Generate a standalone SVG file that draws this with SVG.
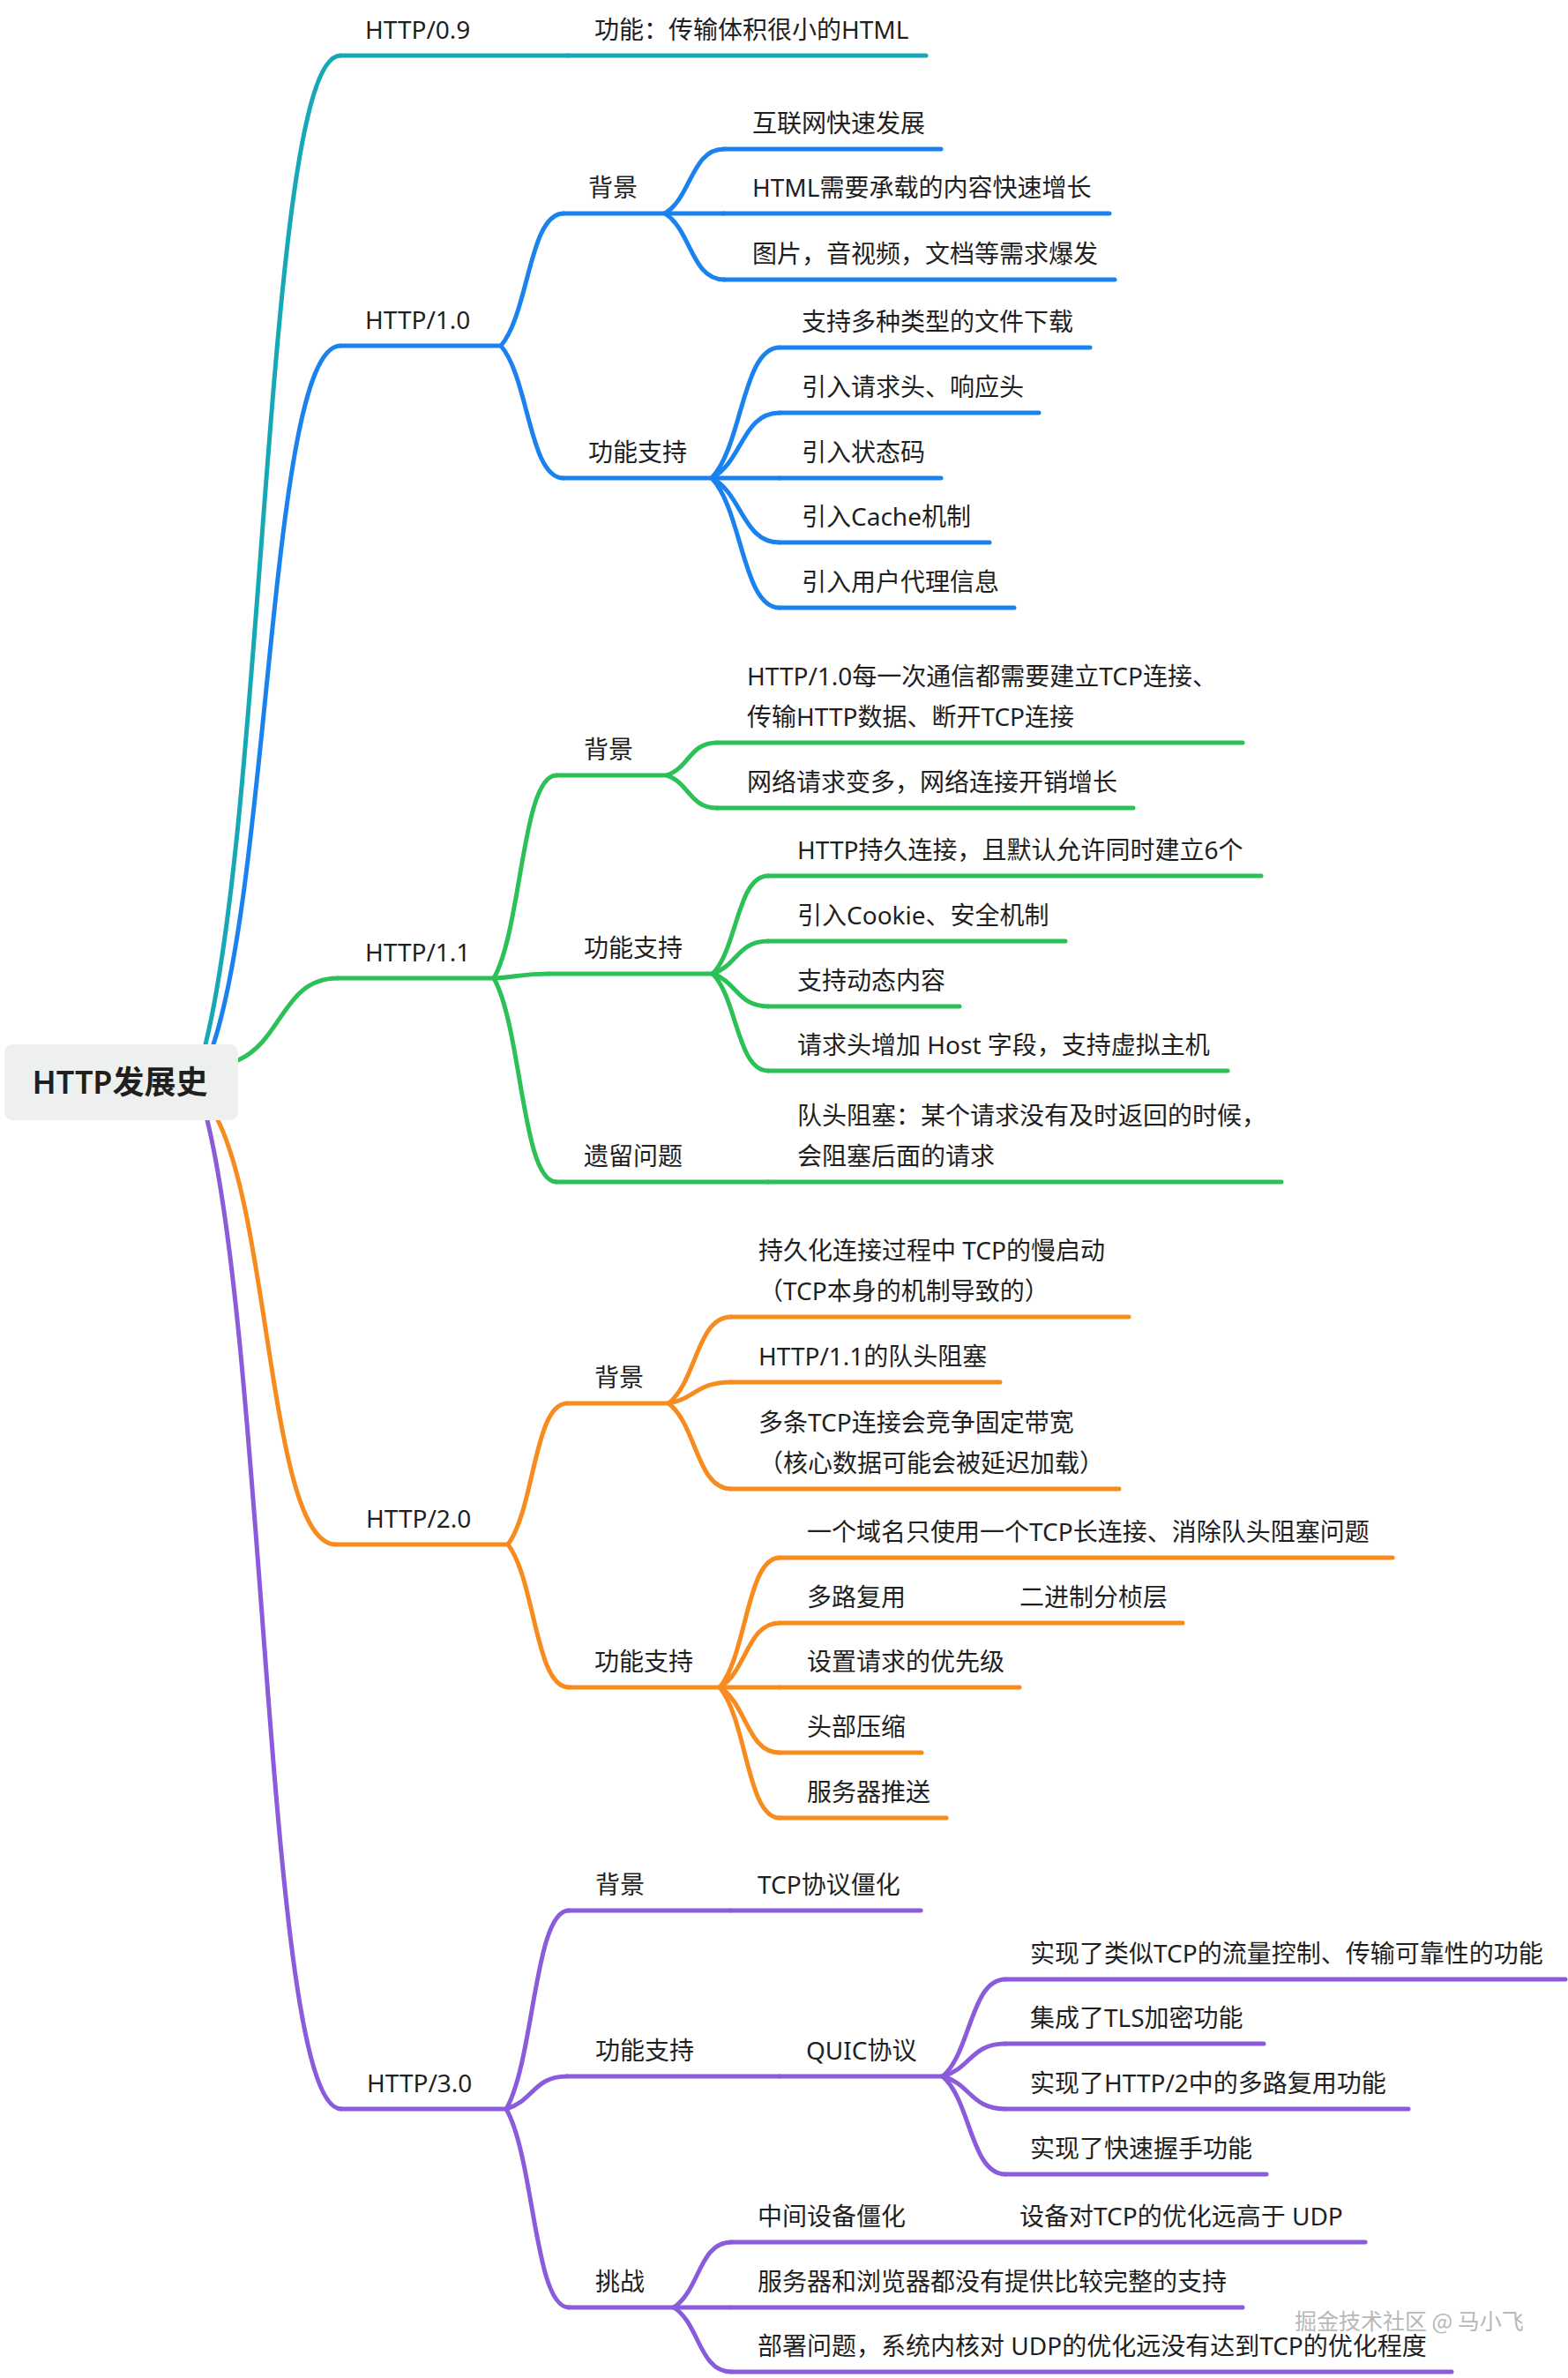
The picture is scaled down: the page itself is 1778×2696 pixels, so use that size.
<svg xmlns="http://www.w3.org/2000/svg" width="1778" height="2696" viewBox="0 0 1778 2696">
<style>
.ln{fill:none;stroke-width:5;stroke-linecap:round;stroke-linejoin:round}
.c09{stroke:#17a8b5}.c10{stroke:#1a82ee}.c11{stroke:#2cc157}.c20{stroke:#f78b1e}.c30{stroke:#8a5bdb}
.t{font-family:'Noto Sans','Noto Sans CJK SC',sans-serif;font-size:28px;fill:#1f1f1f}
.root{font-size:36px;font-weight:600;text-anchor:middle}
.wm{font-family:'Noto Sans CJK SC',sans-serif;font-size:25px;fill:#b8b8b8}
</style>
<rect width="1778" height="2696" fill="#ffffff"/>
<g id="connectors">
<path class="ln c09" d="M233,1184C302,904 302,63 386,63"/>
<path class="ln c10" d="M242,1184C307,986 307,392 386,392"/>
<path class="ln c11" d="M270,1202C321,1179 321,1109 383,1109"/>
<path class="ln c20" d="M247,1270C307,1390 307,1751 381,1751"/>
<path class="ln c30" d="M235,1270C303,1550 303,2391 387,2391"/>
<path class="ln c10" d="M568,392C600,354.5 600,242 639,242"/>
<path class="ln c10" d="M568,392C600,429.5 600,542 639,542"/>
<path class="ln c10" d="M754,242C784,224 784,169 821,169"/>
<path class="ln c10" d="M754,242L821,242"/>
<path class="ln c10" d="M754,242C784,261 784,317 821,317"/>
<path class="ln c10" d="M807,542C842,505 842,394 884,394"/>
<path class="ln c10" d="M807,542C842,523.5 842,468 884,468"/>
<path class="ln c10" d="M807,542L884,542"/>
<path class="ln c10" d="M807,542C842,560 842,615 884,615"/>
<path class="ln c10" d="M807,542C842,579 842,689 884,689"/>
<path class="ln c11" d="M560,1109C592,1051.5 592,879 631,879"/>
<path class="ln c11" d="M560,1109C588,1108 588,1104 622,1104"/>
<path class="ln c11" d="M560,1109C592,1167 592,1340 631,1340"/>
<path class="ln c11" d="M756,879C782,870 782,842 813,842"/>
<path class="ln c11" d="M756,879C782,888 782,916 813,916"/>
<path class="ln c11" d="M808,1104C836,1076 836,993 871,993"/>
<path class="ln c11" d="M808,1104C836,1095 836,1067 871,1067"/>
<path class="ln c11" d="M808,1104C836,1113 836,1141 871,1141"/>
<path class="ln c11" d="M808,1104C836,1131.5 836,1214 871,1214"/>
<path class="ln c20" d="M576,1751C606,1711 606,1591 643,1591"/>
<path class="ln c20" d="M576,1751C607,1791.5 607,1913 645,1913"/>
<path class="ln c20" d="M758,1591C790,1566.5 790,1493 829,1493"/>
<path class="ln c20" d="M758,1591C790,1585 790,1567 829,1567"/>
<path class="ln c20" d="M758,1591C790,1615 790,1688 829,1688"/>
<path class="ln c20" d="M816,1913C847,1876 847,1766 884,1766"/>
<path class="ln c20" d="M816,1913C847,1895 847,1840 884,1840"/>
<path class="ln c20" d="M816,1913L884,1913"/>
<path class="ln c20" d="M816,1913C847,1931.5 847,1987 884,1987"/>
<path class="ln c20" d="M816,1913C847,1950 847,2061 884,2061"/>
<path class="ln c30" d="M574,2391C606,2335 606,2166 645,2166"/>
<path class="ln c30" d="M574,2391C605,2382 605,2354 643,2354"/>
<path class="ln c30" d="M574,2391C606,2447 606,2616 645,2616"/>
<path class="ln c30" d="M1069,2354C1101,2326.5 1101,2244 1140,2244"/>
<path class="ln c30" d="M1069,2354C1101,2345 1101,2317 1140,2317"/>
<path class="ln c30" d="M1069,2354C1101,2363 1101,2391 1140,2391"/>
<path class="ln c30" d="M1069,2354C1101,2382 1101,2465 1140,2465"/>
<path class="ln c30" d="M764,2616C793,2597.5 793,2542 829,2542"/>
<path class="ln c30" d="M764,2616L829,2616"/>
<path class="ln c30" d="M764,2616C793,2634 793,2689 829,2689"/>
</g>
<g id="root">
<rect x="5" y="1184" width="265" height="86" rx="9" fill="#eef0ef"/>
<text class="t root" x="136" y="1240">HTTP发展史</text>
</g>
<g id="n-http09"><path class="ln c09" d="M386,63H645"/><text class="t" x="414" y="44">HTTP/0.9</text></g>
<g id="n-http09-1"><path class="ln c09" d="M645,63H1050"/><text class="t" x="674" y="44">功能：传输体积很小的HTML</text></g>

<g id="n-http10"><path class="ln c10" d="M386,392H568"/><text class="t" x="414" y="373">HTTP/1.0</text></g>
<g id="n-10-bg"><path class="ln c10" d="M639,242H754"/><text class="t" x="667" y="223">背景</text></g>
<g id="n-10-bg-1"><path class="ln c10" d="M821,169H1067"/><text class="t" x="853" y="150">互联网快速发展</text></g>
<g id="n-10-bg-2"><path class="ln c10" d="M821,242H1258"/><text class="t" x="853" y="223">HTML需要承载的内容快速增长</text></g>
<g id="n-10-bg-3"><path class="ln c10" d="M821,317H1264"/><text class="t" x="853" y="298">图片，音视频，文档等需求爆发</text></g>
<g id="n-10-fn"><path class="ln c10" d="M639,542H807"/><text class="t" x="667" y="523">功能支持</text></g>
<g id="n-10-fn-1"><path class="ln c10" d="M884,394H1236"/><text class="t" x="909" y="375">支持多种类型的文件下载</text></g>
<g id="n-10-fn-2"><path class="ln c10" d="M884,468H1178"/><text class="t" x="909" y="449">引入请求头、响应头</text></g>
<g id="n-10-fn-3"><path class="ln c10" d="M884,542H1067"/><text class="t" x="909" y="523">引入状态码</text></g>
<g id="n-10-fn-4"><path class="ln c10" d="M884,615H1122"/><text class="t" x="909" y="596">引入Cache机制</text></g>
<g id="n-10-fn-5"><path class="ln c10" d="M884,689H1150"/><text class="t" x="909" y="670">引入用户代理信息</text></g>

<g id="n-http11"><path class="ln c11" d="M383,1109H560"/><text class="t" x="414" y="1090">HTTP/1.1</text></g>
<g id="n-11-bg"><path class="ln c11" d="M631,879H756"/><text class="t" x="662" y="860">背景</text></g>
<g id="n-11-bg-1"><path class="ln c11" d="M813,842H1409"/><text class="t" x="847" y="777">HTTP/1.0每一次通信都需要建立TCP连接、</text><text class="t" x="847" y="823">传输HTTP数据、断开TCP连接</text></g>
<g id="n-11-bg-2"><path class="ln c11" d="M813,916H1285"/><text class="t" x="847" y="897">网络请求变多，网络连接开销增长</text></g>
<g id="n-11-fn"><path class="ln c11" d="M622,1104H808"/><text class="t" x="662" y="1085">功能支持</text></g>
<g id="n-11-fn-1"><path class="ln c11" d="M871,993H1430"/><text class="t" x="904" y="974">HTTP持久连接，且默认允许同时建立6个</text></g>
<g id="n-11-fn-2"><path class="ln c11" d="M871,1067H1208"/><text class="t" x="904" y="1048">引入Cookie、安全机制</text></g>
<g id="n-11-fn-3"><path class="ln c11" d="M871,1141H1088"/><text class="t" x="904" y="1122">支持动态内容</text></g>
<g id="n-11-fn-4"><path class="ln c11" d="M871,1214H1392"/><text class="t" x="904" y="1195">请求头增加 Host 字段，支持虚拟主机</text></g>
<g id="n-11-ls"><path class="ln c11" d="M631,1340H871"/><text class="t" x="662" y="1321">遗留问题</text></g>
<g id="n-11-ls-1"><path class="ln c11" d="M871,1340H1453"/><text class="t" x="904" y="1275">队头阻塞：某个请求没有及时返回的时候，</text><text class="t" x="904" y="1321">会阻塞后面的请求</text></g>

<g id="n-http20"><path class="ln c20" d="M381,1751H576"/><text class="t" x="415" y="1732">HTTP/2.0</text></g>
<g id="n-20-bg"><path class="ln c20" d="M643,1591H758"/><text class="t" x="674" y="1572">背景</text></g>
<g id="n-20-bg-1"><path class="ln c20" d="M829,1493H1280"/><text class="t" x="860" y="1428">持久化连接过程中 TCP的慢启动</text><text class="t" x="860" y="1474">（TCP本身的机制导致的）</text></g>
<g id="n-20-bg-2"><path class="ln c20" d="M829,1567H1134"/><text class="t" x="860" y="1548">HTTP/1.1的队头阻塞</text></g>
<g id="n-20-bg-3"><path class="ln c20" d="M829,1688H1269"/><text class="t" x="860" y="1623">多条TCP连接会竞争固定带宽</text><text class="t" x="860" y="1669">（核心数据可能会被延迟加载）</text></g>
<g id="n-20-fn"><path class="ln c20" d="M645,1913H816"/><text class="t" x="674" y="1894">功能支持</text></g>
<g id="n-20-fn-1"><path class="ln c20" d="M884,1766H1579"/><text class="t" x="915" y="1747">一个域名只使用一个TCP长连接、消除队头阻塞问题</text></g>
<g id="n-20-fn-2"><path class="ln c20" d="M884,1840H1341"/><text class="t" x="915" y="1821">多路复用</text><text class="t" x="1156" y="1821">二进制分桢层</text></g>
<g id="n-20-fn-3"><path class="ln c20" d="M884,1913H1156"/><text class="t" x="915" y="1894">设置请求的优先级</text></g>
<g id="n-20-fn-4"><path class="ln c20" d="M884,1987H1045"/><text class="t" x="915" y="1968">头部压缩</text></g>
<g id="n-20-fn-5"><path class="ln c20" d="M884,2061H1073"/><text class="t" x="915" y="2042">服务器推送</text></g>

<g id="n-http30"><path class="ln c30" d="M387,2391H574"/><text class="t" x="416" y="2372">HTTP/3.0</text></g>
<g id="n-30-bg"><path class="ln c30" d="M645,2166H829"/><text class="t" x="675" y="2147">背景</text></g>
<g id="n-30-bg-1"><path class="ln c30" d="M829,2166H1044"/><text class="t" x="859" y="2147">TCP协议僵化</text></g>
<g id="n-30-fn"><path class="ln c30" d="M643,2354H884"/><text class="t" x="675" y="2335">功能支持</text></g>
<g id="n-30-quic"><path class="ln c30" d="M884,2354H1069"/><text class="t" x="914" y="2335">QUIC协议</text></g>
<g id="n-30-quic-1"><path class="ln c30" d="M1140,2244H1775"/><text class="t" x="1168" y="2225">实现了类似TCP的流量控制、传输可靠性的功能</text></g>
<g id="n-30-quic-2"><path class="ln c30" d="M1140,2317H1433"/><text class="t" x="1168" y="2298">集成了TLS加密功能</text></g>
<g id="n-30-quic-3"><path class="ln c30" d="M1140,2391H1597"/><text class="t" x="1168" y="2372">实现了HTTP/2中的多路复用功能</text></g>
<g id="n-30-quic-4"><path class="ln c30" d="M1140,2465H1436"/><text class="t" x="1168" y="2446">实现了快速握手功能</text></g>
<g id="n-30-ch"><path class="ln c30" d="M645,2616H764"/><text class="t" x="675" y="2597">挑战</text></g>
<g id="n-30-ch-1"><path class="ln c30" d="M829,2542H1548"/><text class="t" x="859" y="2523">中间设备僵化</text><text class="t" x="1156" y="2523">设备对TCP的优化远高于 UDP</text></g>
<g id="n-30-ch-2"><path class="ln c30" d="M829,2616H1409"/><text class="t" x="859" y="2597">服务器和浏览器都没有提供比较完整的支持</text></g>
<g id="n-30-ch-3"><path class="ln c30" d="M829,2689H1646"/><text class="t" x="859" y="2670">部署问题，系统内核对 UDP的优化远没有达到TCP的优化程度</text></g>
<text class="wm" x="1468" y="2641">掘金技术社区 @ 马小飞</text>
</svg>
